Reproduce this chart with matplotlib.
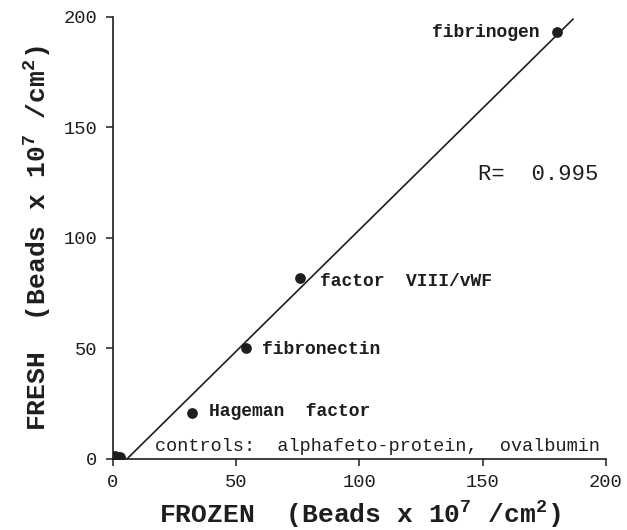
from matplotlib import pyplot as plt
import numpy as np

plt.rcParams['font.family'] = 'Liberation Mono'
plt.rcParams['mathtext.fontset'] = 'custom'
plt.rcParams['mathtext.rm'] = 'Liberation Mono'
plt.rcParams['mathtext.bf'] = 'Liberation Mono:bold'
plt.rcParams['mathtext.default'] = 'regular'

ink = '#1e1e1e'

# binding, beads x 10^7 / cm^2
proteins = ['fibrinogen', 'factor  VIII/vWF', 'fibronectin', 'Hageman  factor', '', '']
frozen = [180, 76, 54, 32, 1, 3]
fresh = [193, 82, 50, 21, 1.5, 1]

# regression line
slope = 1.1
x0 = 5.7
line_x = [5.7, 186.6]

label_pos = [(173, 193, 'right'), (84, 80.5, 'left'), (60.5, 49.5, 'left'), (39, 21.3, 'left')]

fig = plt.figure(figsize=(6.27, 5.30), dpi=100)
ax = fig.add_axes([0.180, 0.134, 0.7865, 0.834])

lx = np.array(line_x)
ax.plot(lx, slope * (lx - x0), color=ink, lw=1.2)
ax.scatter(frozen, fresh, s=45, color=ink, zorder=3)

for name, (tx, ty, ha) in zip(proteins, label_pos):
    ax.text(tx, ty, name, ha=ha, va='center', fontsize=13, fontweight='bold', color=ink)

ax.text(17, 5.8, 'controls:  alphafeto-protein,  ovalbumin', ha='left', va='center',
        fontsize=13.3, color=ink)
ax.text(148, 128.5, 'R=  0.995', ha='left', va='center', fontsize=16, color=ink)

ax.set_xlim(0, 200)
ax.set_ylim(0, 200)
ax.set_xticks([0, 50, 100, 150, 200])
ax.set_yticks([0, 50, 100, 150, 200])
ax.spines['top'].set_visible(False)
ax.spines['right'].set_visible(False)
for s in ['left', 'bottom']:
    ax.spines[s].set_linewidth(1.2)
    ax.spines[s].set_color(ink)
ax.tick_params(length=5, width=1.1, colors=ink, labelsize=13.5, pad=6)

ax.set_xlabel('FROZEN  (Beads x 10$^{7}$ /cm$^{2}$)', fontsize=19, fontweight='bold',
              color=ink, labelpad=6)
ax.set_ylabel('FRESH  (Beads x 10$^{7}$ /cm$^{2}$)', fontsize=19, fontweight='bold',
              color=ink, labelpad=8)

plt.savefig('out.png', dpi=100)
